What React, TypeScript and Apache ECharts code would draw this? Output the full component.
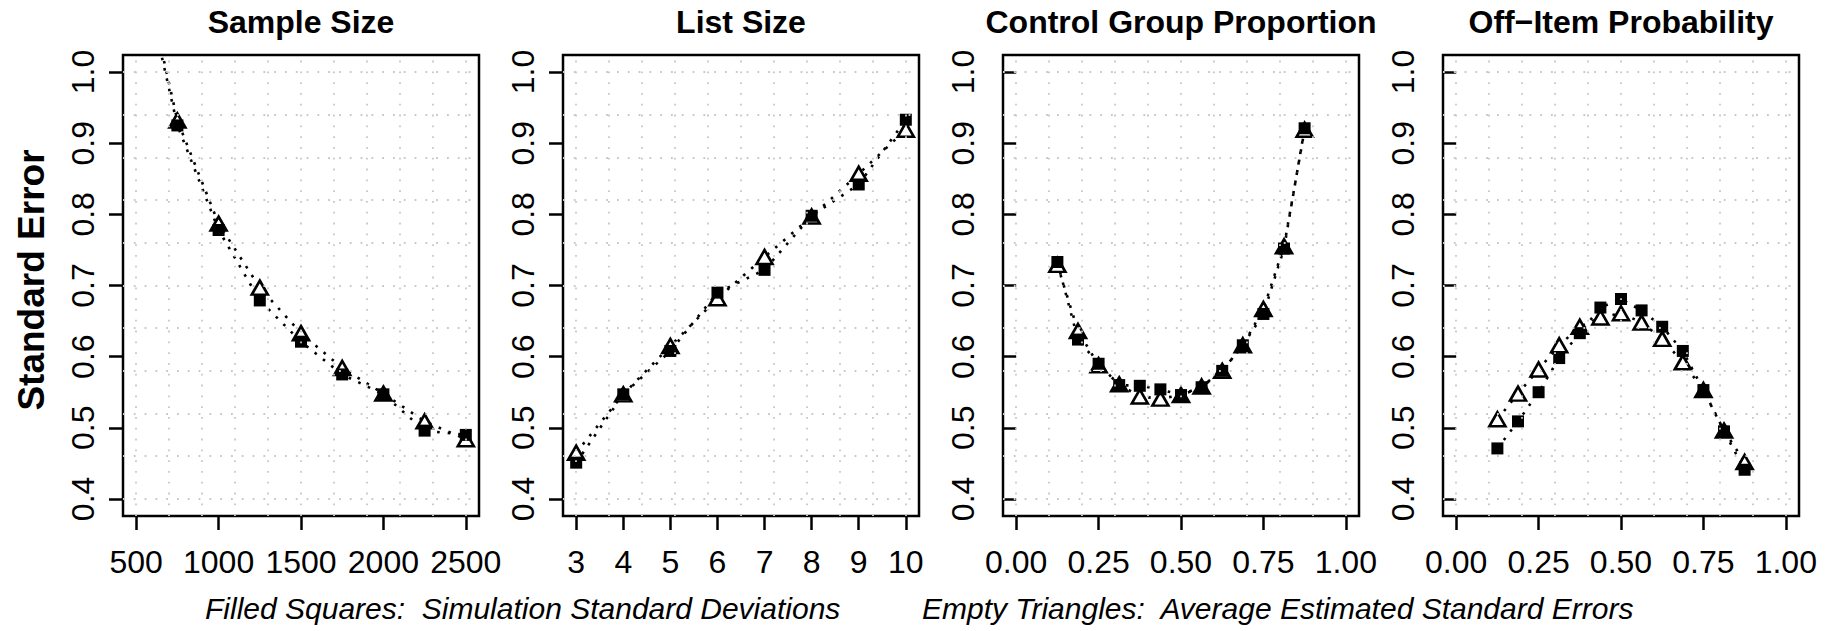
import React, { useEffect, useRef } from "react";
import * as echarts from "echarts";

// ---------- data ----------
const sampleSizes = [500, 750, 1000, 1250, 1500, 1750, 2000, 2250, 2500];
const sampleSizeSquares = [1.18, 0.925, 0.778, 0.679, 0.621, 0.575, 0.547, 0.496, 0.49];
const sampleSizeTriangles = [1.19, 0.932, 0.787, 0.697, 0.633, 0.584, 0.548, 0.509, 0.484];

const listSizes = [3, 4, 5, 6, 7, 8, 9, 10];
const listSizeSquares = [0.451, 0.547, 0.608, 0.69, 0.722, 0.798, 0.842, 0.933];
const listSizeTriangles = [0.465, 0.547, 0.615, 0.682, 0.74, 0.797, 0.857, 0.919];

const proportions = [0.125, 0.1875, 0.25, 0.3125, 0.375, 0.4375, 0.5, 0.5625, 0.625, 0.6875, 0.75, 0.8125, 0.875];
const controlSquares = [0.733, 0.624, 0.59, 0.56, 0.559, 0.554, 0.546, 0.557, 0.58, 0.616, 0.66, 0.752, 0.921];
const controlTriangles = [0.729, 0.636, 0.588, 0.561, 0.544, 0.541, 0.546, 0.558, 0.58, 0.616, 0.667, 0.755, 0.919];
const offItemSquares = [0.471, 0.509, 0.55, 0.598, 0.633, 0.669, 0.681, 0.665, 0.642, 0.608, 0.553, 0.495, 0.441];
const offItemTriangles = [0.512, 0.548, 0.582, 0.616, 0.642, 0.655, 0.661, 0.648, 0.625, 0.592, 0.553, 0.496, 0.452];

const panelTitles = ["Sample Size", "List Size", "Control Group Proportion", "Off\u2212Item Probability"];

const sampleSizeTicks = [500, 1000, 1500, 2000, 2500];
const listSizeTicks = [3, 4, 5, 6, 7, 8, 9, 10];
const proportionTicks = [0, 0.25, 0.5, 0.75, 1];
const yTicks = [0.4, 0.5, 0.6, 0.7, 0.8, 0.9, 1.0];

const sampleSizeGrid = [500, 700, 900, 1100, 1300, 1500, 1700, 1900, 2100, 2300, 2500];
const listSizeGrid = [3, 3.7, 4.4, 5.1, 5.8, 6.5, 7.2, 7.9, 8.6, 9.3, 10];
const proportionGrid = [0, 0.1, 0.2, 0.3, 0.4, 0.5, 0.6, 0.7, 0.8, 0.9, 1];
const yGrid = [0.4, 0.46, 0.52, 0.58, 0.64, 0.7, 0.76, 0.82, 0.88, 0.94, 1.0];

const sampleSizeLim = [500, 2500];
const listSizeLim = [3, 10];
const proportionLim = [0, 1];
const yLim = [0.4, 1.0];

const yAxisTitle = "Standard Error";
const captionLeft = "Filled Squares:  Simulation Standard Deviations";
const captionRight = "Empty Triangles:  Average Estimated Standard Errors";

// ---------- layout ----------
const FONT = '"Liberation Sans", Arial, Helvetica, sans-serif';
const BOX_LEFT0 = 123;
const BOX_STEP = 440;
const BOX_W = 356;
const BOX_TOP = 55;
const BOX_H = 461;

const zip = (xs: number[], ys: number[]) => xs.map((x, i) => [x, ys[i]]);
const expand = (lim: number[]) => {
  const r = lim[1] - lim[0];
  return [lim[0] - 0.04 * r, lim[1] + 0.04 * r];
};

export default function App() {
  const ref = useRef<HTMLDivElement>(null);

  useEffect(() => {
    if (!ref.current) return;
    const chart = echarts.init(ref.current, undefined, { renderer: "svg" });

    const panels = [
      { x: sampleSizes, sq: sampleSizeSquares, tri: sampleSizeTriangles, lim: sampleSizeLim, ticks: sampleSizeTicks, grid: sampleSizeGrid, fmt: (v: number) => String(Math.round(v)) },
      { x: listSizes, sq: listSizeSquares, tri: listSizeTriangles, lim: listSizeLim, ticks: listSizeTicks, grid: listSizeGrid, fmt: (v: number) => String(Math.round(v)) },
      { x: proportions, sq: controlSquares, tri: controlTriangles, lim: proportionLim, ticks: proportionTicks, grid: proportionGrid, fmt: (v: number) => v.toFixed(2) },
      { x: proportions, sq: offItemSquares, tri: offItemTriangles, lim: proportionLim, ticks: proportionTicks, grid: proportionGrid, fmt: (v: number) => v.toFixed(2) },
    ];

    const yr = expand(yLim);
    const grids: any[] = [];
    const xAxes: any[] = [];
    const yAxes: any[] = [];
    const series: any[] = [];
    const graphics: any[] = [];

    const dotted = { color: "#000", width: 2.6, type: [2.6, 8], cap: "butt" };

    panels.forEach((p, i) => {
      const left = BOX_LEFT0 + BOX_STEP * i;
      grids.push({
        left, top: BOX_TOP, width: BOX_W, height: BOX_H,
        show: true, borderColor: "#000", borderWidth: 2.5, backgroundColor: "transparent",
        containLabel: false,
      });
      const xr = expand(p.lim);
      xAxes.push({
        gridIndex: i, type: "value", min: xr[0], max: xr[1],
        axisLine: { show: false },
        axisTick: { show: true, customValues: p.ticks, length: 14, inside: false, lineStyle: { color: "#000", width: 2.5 } },
        axisLabel: { show: true, customValues: p.ticks, formatter: p.fmt, fontSize: 32, color: "#000", fontFamily: FONT, margin: 30 },
        splitLine: { show: false },
      });
      yAxes.push({
        gridIndex: i, type: "value", min: yr[0], max: yr[1],
        axisLine: { show: false },
        axisTick: { show: true, customValues: yTicks, length: 14, inside: false, lineStyle: { color: "#000", width: 2.5 } },
        axisLabel: { show: true, customValues: yTicks, formatter: (v: number) => v.toFixed(1), rotate: 90, fontSize: 32, color: "#000", fontFamily: FONT, margin: 24 },
        splitLine: { show: false },
      });

      // background dotted grid
      series.push({
        type: "line", xAxisIndex: i, yAxisIndex: i, data: zip(p.x, p.tri), z: 1,
        symbol: "none", lineStyle: { opacity: 0 }, silent: true,
        markLine: {
          silent: true, symbol: ["none", "none"], label: { show: false }, animation: false,
          lineStyle: { color: "#c8c8c8", width: 1.8, type: [1.8, 9] },
          emphasis: { disabled: true },
          data: [...p.grid.map((v) => ({ xAxis: v })), ...yGrid.map((v) => ({ yAxis: v }))],
        },
      });
      // dotted connecting lines
      series.push({ type: "line", xAxisIndex: i, yAxisIndex: i, data: zip(p.x, p.tri), z: 2, symbol: "none", clip: true, lineStyle: dotted, silent: true });
      series.push({ type: "line", xAxisIndex: i, yAxisIndex: i, data: zip(p.x, p.sq), z: 2, symbol: "none", clip: true, lineStyle: dotted, silent: true });
      // markers
      series.push({
        type: "scatter", xAxisIndex: i, yAxisIndex: i, data: zip(p.x, p.tri), z: 3, clip: true,
        symbol: "triangle", symbolSize: [16, 14],
        itemStyle: { color: "#fff", borderColor: "#000", borderWidth: 2.6, opacity: 1 },
        silent: true,
      });
      series.push({
        type: "scatter", xAxisIndex: i, yAxisIndex: i, data: zip(p.x, p.sq), z: 4, clip: true,
        symbol: "rect", symbolSize: 12,
        itemStyle: { color: "#000", opacity: 1 },
        silent: true,
      });

      graphics.push({
        type: "text", x: left + BOX_W / 2, y: 22,
        style: { text: panelTitles[i], font: `bold 32px ${FONT}`, fill: "#000", textAlign: "center", textVerticalAlign: "middle" },
      });
    });

    graphics.push({
      type: "text", x: 31, y: 280, rotation: Math.PI / 2,
      style: { text: yAxisTitle, font: `bold 37px ${FONT}`, fill: "#000", textAlign: "center", textVerticalAlign: "middle" },
    });
    graphics.push({
      type: "text", x: 205, y: 608,
      style: { text: captionLeft, font: `italic 30px ${FONT}`, fill: "#000", textAlign: "left", textVerticalAlign: "middle" },
    });
    graphics.push({
      type: "text", x: 922, y: 608,
      style: { text: captionRight, font: `italic 30px ${FONT}`, fill: "#000", textAlign: "left", textVerticalAlign: "middle" },
    });

    chart.setOption({
      animation: false,
      backgroundColor: "#fff",
      textStyle: { fontFamily: FONT },
      grid: grids,
      xAxis: xAxes,
      yAxis: yAxes,
      series,
      graphic: graphics,
    });

    return () => chart.dispose();
  }, []);

  return (
    <div
      ref={ref}
      style={{ position: "absolute", left: 0, top: 0, width: 1831, height: 631, background: "#fff" }}
    />
  );
}
